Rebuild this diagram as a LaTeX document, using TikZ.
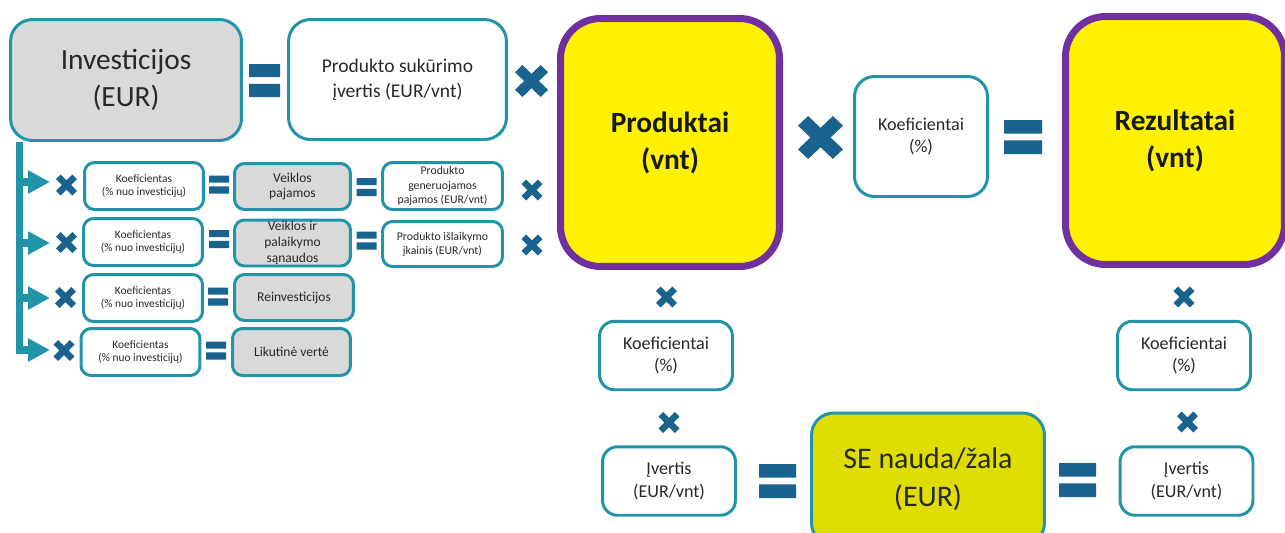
\documentclass[tikz,border=0pt]{standalone}
\usepackage{fontspec}
\setmainfont{Carlito}
\usetikzlibrary{arrows.meta}
\definecolor{teal1}{RGB}{33,148,168}
\definecolor{signc}{RGB}{26,99,142}
\definecolor{grayf}{RGB}{217,217,217}
\definecolor{purp}{RGB}{112,48,160}
\definecolor{sey}{RGB}{224,222,0}
\definecolor{txt}{RGB}{40,40,40}
\tikzset{
  box/.style={draw=teal1, line width=1.7pt, rounded corners=0.2cm, align=center, inner sep=0pt, text=txt},
  bigbox/.style={box, rounded corners=0.44cm},
  resbox/.style={draw=purp, fill=yellow, line width=4pt, rounded corners=0.8cm, align=center, inner sep=0pt,
    minimum width=4.38cm, minimum height=4.96cm, font=\fontsize{16.7}{21}\selectfont\bfseries, text=black!90},
  rowbox/.style={box, minimum width=2.38cm, minimum height=0.94cm, font=\fontsize{6.5}{7.8}\selectfont},
  graybox/.style={box, fill=grayf, minimum width=2.32cm, minimum height=0.92cm, font=\fontsize{7.7}{9}\selectfont},
  lowbox/.style={box, rounded corners=0.3cm, minimum width=2.66cm, minimum height=1.37cm, font=\fontsize{10.3}{12.8}\selectfont},
  arr/.style={teal1, line width=4pt, -{Triangle[length=12.5pt,width=12.5pt]}},
  eqsign/.pic={\fill[signc] (-1,-1) rectangle (1,-0.2) (-1,0.2) rectangle (1,1);},
  xsign/.pic={\fill[signc] (-1,-0.55) -- (-0.55,-1) -- (0,-0.45) -- (0.55,-1) -- (1,-0.55) -- (0.45,0)
    -- (1,0.55) -- (0.55,1) -- (0,0.45) -- (-0.55,1) -- (-1,0.55) -- (-0.45,0) -- cycle;}
}
\begin{document}
\begin{tikzpicture}[x=0.02cm, y=-0.02cm]
\useasboundingbox (0,0) rectangle (1285,532);
\clip (0,0) rectangle (1285,532);

\node[bigbox, fill=grayf, minimum width=4.62cm, minimum height=2.42cm, font=\fontsize{16.7}{21}\selectfont] (inv) at (126,80) {Investicijos\\(EUR)};
\node[bigbox, minimum width=4.36cm, minimum height=2.40cm, font=\fontsize{11.1}{14}\selectfont] (sukurimas) at (397.5,79.5) {Produkto sukūrimo\\įvertis (EUR/vnt)};
\node[resbox] (produktai) at (670,142.5) {Produktai\\(vnt)};
\node[bigbox, rounded corners=0.4cm, minimum width=2.66cm, minimum height=2.40cm, font=\fontsize{10.3}{12.8}\selectfont] (koefmid) at (921,136.5) {Koeficientai\\(\%)};
\node[resbox] (rezultatai) at (1175,140.5) {Rezultatai\\(vnt)};

\node[lowbox] (koefL) at (666,355.5) {Koeficientai\\(\%)};
\node[lowbox] (ivertisL) at (669,481) {Įvertis\\(EUR/vnt)};
\node[bigbox, fill=sey, minimum width=4.66cm, minimum height=2.64cm, font=\fontsize{17}{21.5}\selectfont] (senauda) at (928,479) {SE nauda/žala\\(EUR)};
\node[lowbox] (koefR) at (1184,355.5) {Koeficientai\\(\%)};
\node[lowbox] (ivertisR) at (1186.5,481) {Įvertis\\(EUR/vnt)};

\foreach \i/\x/\y in {1/144/186, 2/143/242, 3/143/298, 4/140.5/352}
  \node[rowbox] (koef\i) at (\x,\y) {Koeficientas\\(\% nuo investicijų)};
\node[graybox] (veikla1) at (292.5,186.5) {Veiklos\\pajamos};
\node[graybox] (veikla2) at (292.5,243) {Veiklos ir\\palaikymo\\sąnaudos};
\node[graybox, minimum width=2.38cm] (veikla3) at (294,297.5) {Reinvesticijos};
\node[graybox, minimum width=2.36cm, minimum height=0.94cm] (veikla4) at (291.5,352) {Likutinė vertė};
\node[rowbox, minimum width=2.40cm, font=\fontsize{6.7}{8.1}\selectfont] (produkto1) at (442.5,186) {Produkto\\generuojamos\\pajamos (EUR/vnt)};
\node[rowbox, minimum width=2.40cm, minimum height=0.90cm, font=\fontsize{6.7}{8.1}\selectfont] (produkto2) at (442.5,244) {Produkto išlaikymo\\įkainis (EUR/vnt)};

\coordinate (trunk) at ([xshift=0.21cm]inv.south west);
\foreach \i/\y in {1/182, 2/243, 3/298, 4/350}
  \coordinate (tip\i) at (50,\y);
\draw[arr, rounded corners=0pt] (trunk) |- (tip4);
\foreach \i in {1,2,3}
  \draw[arr] (trunk |- tip\i) -- (tip\i);

\pic[xscale=15.5, yscale=16.5] at (264.5,80.5) {eqsign};
\pic[xscale=19, yscale=17] at (1023,137) {eqsign};
\pic[xscale=18.5, yscale=17] at (777.5,481) {eqsign};
\pic[xscale=18.5, yscale=17] at (1077.5,480) {eqsign};
\foreach \x/\y in {219/184.5, 219/239, 218/296.5, 216/350.5, 366.5/187, 366.5/240.5}
  \pic[xscale=10, yscale=9] at (\x,\y) {eqsign};

\pic[xscale=16.5, yscale=16] at (531.5,81) {xsign};
\pic[xscale=22.5, yscale=21.5] at (820.5,137.5) {xsign};
\foreach \x/\y in {66.5/185, 66.5/242.5, 65.5/297.5, 64/350.5, 532/190, 532/245}
  \pic[xscale=10.5, yscale=10.5] at (\x,\y) {xsign};
\foreach \x/\y in {666.5/297, 669/422.5, 1184/297, 1187.5/422}
  \pic[xscale=10.5, yscale=10.5] at (\x,\y) {xsign};
\end{tikzpicture}
\end{document}
